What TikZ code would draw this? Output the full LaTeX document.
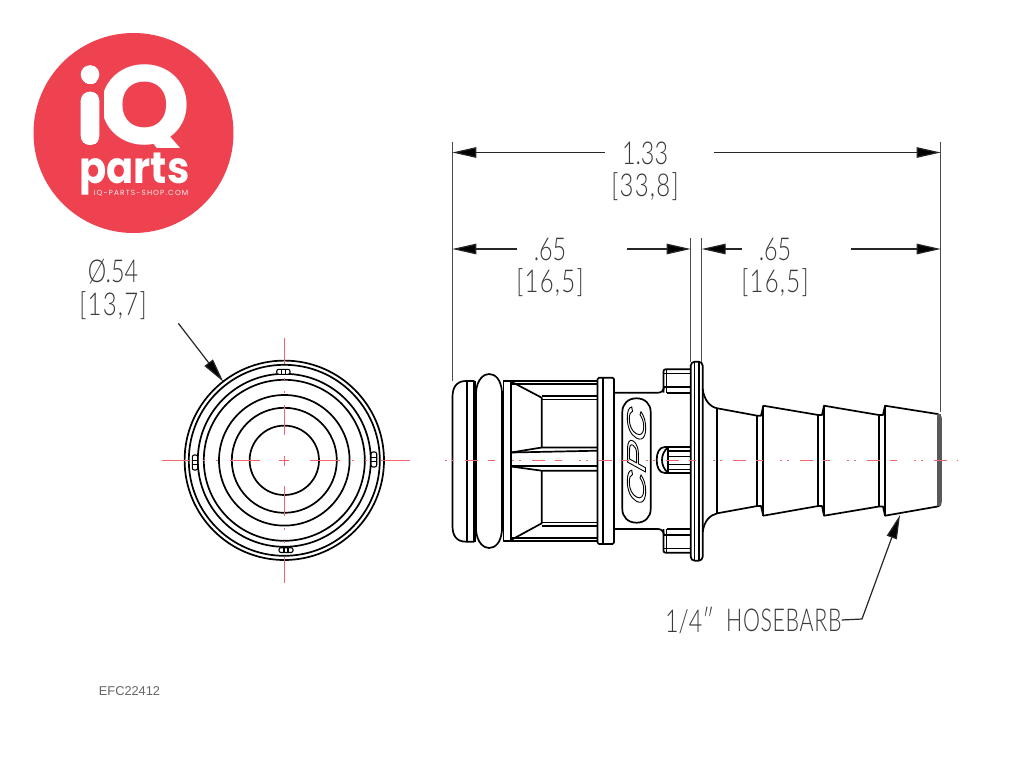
\documentclass[tikz,border=0pt]{standalone}
\usepackage{fontspec}
\usetikzlibrary{arrows.meta}
\setmainfont{Liberation Sans}
\newfontfamily\dimfont[FakeStretch=0.74]{Lato Light}
\newfontfamily\brfont[FakeStretch=0.76,LetterSpace=4]{Lato Light}
\newfontfamily\hosefont[FakeStretch=0.68,LetterSpace=2]{Lato Light}
\newfontfamily\logofont{Poppins Bold}
\newfontfamily\logopfont[FakeStretch=0.91]{Poppins Bold}
\newfontfamily\urlfont[LetterSpace=15]{Poppins}
\newfontfamily\cpcfont[FakeSlant=0.55,FakeStretch=1.75]{Liberation Sans}
\definecolor{logored}{HTML}{EE4250}
\definecolor{axisred}{HTML}{F0666C}
\definecolor{inkdim}{HTML}{3A3A3A}
\tikzset{
  x=1pt,y=-1pt,
  part/.style={line width=1.7pt,black,line join=round},
  fine/.style={line width=1.1pt,black,line join=round},
  dimline/.style={line width=1.2pt,black!85},
  extline/.style={line width=1pt,black!70},
  dimarrow/.style={dimline,-{Triangle[length=24pt,width=10.5pt,fill=black]}},
  dimlabel/.style={font=\dimfont\fontsize{31.5}{32}\selectfont,text=inkdim,inner sep=0pt,anchor=center},
  brlabel/.style={font=\brfont\fontsize{31.5}{32}\selectfont,text=inkdim,inner sep=0pt,anchor=center},
  axisline/.style={line width=1.5pt,axisred,dash pattern=on 13pt off 10pt on 7pt off 17pt on 2pt off 5pt on 2pt off 11pt,dash phase=42pt},
  crossline/.style={line width=1.4pt,axisred,dash pattern=on 30pt off 12pt on 2pt off 11pt on 2pt off 14pt},
}
\begin{document}
\begin{tikzpicture}
\useasboundingbox (0,0) rectangle (1024,768);
\fill[white] (0,0) rectangle (1024,768);
% logo
\fill[logored] (133.5,133) circle (100);
\fill[white] (90,74.5) circle (9.3);
\fill[white,rounded corners=9pt] (80.7,91.7) rectangle (99.3,145);
\begin{scope}
  \clip (90,74.5) circle (9.3)
        [rounded corners=9pt] (80.7,91.7) rectangle (99.3,145)
        [sharp corners] (104,55) -- (192,55) -- (192,134) -- (180,147) -- (104,147) -- cycle;
  \node[font=\logofont\fontsize{112}{112}\selectfont,text=white,inner sep=0pt,anchor=base west] (logoiQ) at (72,144.5) {\smash{i\kern -7pt\scalebox{1.05}[1]{Q}}};
\end{scope}
\node[font=\logopfont\fontsize{44}{44}\selectfont,text=white,inner sep=0pt,anchor=base] (logoparts) at (134.5,183) {\smash{parts}};
\node[font=\urlfont\fontsize{7.4}{8}\selectfont,text=white!90!logored,inner sep=0pt] (logourl) at (141,193) {IQ-PARTS-SHOP.COM};
% named points of the dimensioning
\coordinate (extLtop) at (452.3,141.5);
\coordinate (extLbot) at (452.3,381);
\coordinate (extRtop) at (940.7,141.5);
\coordinate (extRbot) at (940.7,412);
\coordinate (extMAtop) at (690.7,238);
\coordinate (extMAbot) at (690.7,362);
\coordinate (extMBtop) at (701.7,238);
\coordinate (extMBbot) at (701.7,362);
\coordinate (a1L) at (452.3,152.5);
\coordinate (a1R) at (940.7,152.5);
\coordinate (a1g1) at (605,152.5);
\coordinate (a1g2) at (714,152.5);
\coordinate (a2L) at (452.3,249);
\coordinate (a2g1) at (516.7,249);
\coordinate (a2g2) at (626.7,249);
\coordinate (a2M) at (690.7,249);
\coordinate (a3M) at (701.7,249);
\coordinate (a3g1) at (741.7,249);
\coordinate (a3g2) at (851,249);
\coordinate (a3R) at (940.7,249);
\draw[extline] (extLtop) -- (extLbot);
\draw[extline] (extRtop) -- (extRbot);
\draw[extline] (extMAtop) -- (extMAbot);
\draw[extline] (extMBtop) -- (extMBbot);
\draw[dimarrow] (a1g1) -- (a1L);
\draw[dimarrow] (a1g2) -- (a1R);
\draw[dimarrow] (a2g1) -- (a2L);
\draw[dimarrow] (a2g2) -- (a2M);
\draw[dimarrow] (a3g1) -- (a3M);
\draw[dimarrow] (a3g2) -- (a3R);
\node[dimlabel] (t133) at (645,153) {1.33};
\node[brlabel] (t338) at (645,187) {[33,8]};
\node[dimlabel] (t65a) at (550,249) {.65};
\node[brlabel] (t165a) at (550,283) {[16,5]};
\node[dimlabel] (t65b) at (775,249) {.65};
\node[brlabel] (t165b) at (775,283) {[16,5]};
\node[dimlabel] (tdia) at (113,271.5) {Ø.54};
\node[brlabel] (t137) at (113,306) {[13,7]};
\node[dimlabel,anchor=west] (those1) at (665,620) {1/4″};
\node[dimlabel,font=\hosefont\fontsize{31.5}{32}\selectfont,anchor=west] (those2) at (726,620) {HOSEBARB};
\coordinate (barbtip) at (900,515);
\coordinate (barbelbow) at (862,619);
\draw[dimarrow] (those2.east) -- (barbelbow) -- (barbtip);
\coordinate (diatail) at (178.3,323.3);
\coordinate (diatip) at (223.3,381.7);
\draw[dimarrow] (diatail) -- (diatip);
% end view
\foreach \r in {99.7,95.5,86.5,80.5,65.3,52.5,34.7}
  \draw[part] (284.3,460.3) circle (\r);
\foreach \a/\b/\c/\d in {276.7/369.3/290/374.3, 279/547.7/293/552.5}{
  \draw[fine,fill=white,rounded corners=2pt] (\a,\b) rectangle (\c,\d);
  \draw[fine] ({(\a+\c)/2-2},\b) -- ({(\a+\c)/2-2},\d);
  \draw[fine] ({(\a+\c)/2+2},\b) -- ({(\a+\c)/2+2},\d);
}
\foreach \a/\b/\c/\d in {192.3/455/197.7/470, 371/452/376.7/467}{
  \draw[fine,fill=white,rounded corners=2pt] (\a,\b) rectangle (\c,\d);
  \draw[fine] (\a,{(\b+\d)/2-2}) -- (\c,{(\b+\d)/2-2});
  \draw[fine] (\a,{(\b+\d)/2+2}) -- (\c,{(\b+\d)/2+2});
}
% side view: nose
\draw[part] (474,381) -- (466,381) .. controls (456,381) and (452.5,388) .. (452.5,397) -- (452.5,526) .. controls (452.5,535) and (456,541.7) .. (466,541.7) -- (474,541.7) -- cycle;
\draw[part] (467,381) -- (467,541.7);
\draw[part,line width=2.2pt] (474.5,381) -- (474.5,541.7);
% bead
\draw[part] (476,392) .. controls (477,379) and (484,374) .. (489,374) .. controls (495,374) and (501,379) .. (502,392) -- (502,530) .. controls (501,543) and (495,548) .. (489,548) .. controls (484,548) and (477,543) .. (476,530) -- cycle;
% cage
\draw[part] (503.5,381) rectangle (511,540.7);
\draw[part] (511,381) -- (597.5,381);
\draw[part] (511,540.7) -- (597.5,540.7);
\draw[part] (511,384) -- (597.5,384);
\draw[part] (511,538) -- (597.5,538);
\draw[part] (511,381.5) -- (541.7,397.7) -- (541.7,448);
\draw[part] (541.7,395.7) -- (597.5,395.7);
\draw[part] (541.7,399.5) -- (597.5,399.5);
\draw[part] (511,452.5) -- (541.7,447.5) -- (597.5,447.5);
\draw[part] (511,452.5) -- (597.5,450.7);
\draw[part] (511,465.7) -- (597.5,465.7);
\draw[part] (511,466.5) -- (541.7,470.7) -- (597.5,470.7);
\draw[part] (541.7,470.7) -- (541.7,523.3) -- (511,540);
\draw[part] (541.7,522.5) -- (597.5,522.5);
\draw[part] (541.7,526) -- (597.5,526);
% collar
\draw[part,rounded corners=1.5pt] (597.5,377.7) rectangle (614,544);
\draw[part] (603,377.7) -- (603,544);
% neck
\draw[part] (614,392.7) -- (658,392.7) .. controls (662,392.7) and (664,390) .. (664,386);
\draw[part] (614,529) -- (658,529) .. controls (662,529) and (664,532) .. (664,536);
% tabs
\draw[part,rounded corners=2pt] (690.7,369.3) -- (663.5,369.3) -- (663.5,392.7);
\draw[part] (666.5,369.3) -- (666.5,392.7);
\draw[part] (664,373.5) -- (690.7,373.5);
\draw[part] (664,386.7) -- (690.7,386.7);
\draw[part] (666.5,392.7) -- (690.7,392.7);
\draw[part,rounded corners=2pt] (690.7,552.7) -- (663.5,552.7) -- (663.5,529);
\draw[part] (666.5,529) -- (666.5,552.7);
\draw[part] (664,548.5) -- (690.7,548.5);
\draw[part] (664,535) -- (690.7,535);
\draw[part] (666.5,529) -- (690.7,529);
% pin
\draw[part] (690.7,447) -- (665,447) .. controls (659,447) and (656.7,453) .. (656.7,460) .. controls (656.7,467) and (659,473) .. (665,473) -- (690.7,473);
\draw[part] (668,447) .. controls (664,451) and (662,455) .. (662,460) .. controls (662,465) and (664,469) .. (668,473);
\draw[part] (668,451) -- (690.7,451);
\draw[part] (668,456.5) -- (690.7,456.5);
\draw[part] (668,464.5) -- (690.7,464.5);
\draw[part] (668,469.5) -- (690.7,469.5);
\draw[part] (668,447) -- (668,473);
% flange
\draw[part,rounded corners=4pt] (690.7,361.7) rectangle (702.7,560.7);
\draw[part] (694.5,362) -- (694.5,560.5);
\draw[part] (699,362) -- (699,560.5);
% barb
\draw[part] (702.7,389) .. controls (704,400) and (710,407) .. (717.3,408.3)
  -- (757.3,415.7) -- (761,415.7) -- (763.3,405.7) -- (818.3,415) -- (822,415) -- (824,405.7) -- (879,415) -- (883,415) -- (885,405.7) -- (937.5,414) .. controls (940,414.5) and (940.7,416) .. (940.7,418)
  -- (940.7,502) .. controls (940.7,505) and (940,506) .. (937.5,506.5)
  -- (885,515.7) -- (883,506.5) -- (879,506.5) -- (824,515.7) -- (822,506) -- (818.3,506) -- (763.3,515.7) -- (761,506) -- (757.3,506) -- (717.3,513.3) .. controls (710,515) and (704,521) .. (702.7,532);
\foreach \x/\t/\b in {717.3/408.3/513.3,757.3/415.7/506,763.3/405.7/515.7,818.3/415/506,824/405.7/515.7,879/415/506.5,885/405.7/515.7}
  \draw[part] (\x,\t) -- (\x,\b);
\fill[black!65] (937,414.3) rectangle (940.7,506);
% CPC badge
\draw[part] (636.5,398.3) .. controls (645,398.3) and (650.7,404) .. (650.7,412) -- (650.7,509) .. controls (650.7,517) and (645,522.7) .. (636.5,522.7) .. controls (628,522.7) and (622.3,517) .. (622.3,509) -- (622.3,412) .. controls (622.3,404) and (628,398.3) .. (636.5,398.3) -- cycle;
\node[rotate=90,font=\cpcfont\fontsize{26}{26}\selectfont,inner sep=0pt] (cpc) at (636.5,460.5) {\special{pdf:code q 1 Tr 0.9 w}CPC\special{pdf:code Q}};
% centre lines
\coordinate (axL) at (440,460.7);
\coordinate (axR) at (958,460.7);
\draw[axisline] (axL) -- (axR);
\coordinate (crLi) at (260,460.5);
\coordinate (crL) at (162,460.5);
\coordinate (crRi) at (310,460.5);
\coordinate (crR) at (410,460.5);
\coordinate (crTi) at (284.3,435);
\coordinate (crT) at (284.3,338);
\coordinate (crBi) at (284.3,486);
\coordinate (crB) at (284.3,583);
\draw[crossline] (crLi) -- (crL);
\draw[crossline] (crRi) -- (crR);
\draw[crossline] (crTi) -- (crT);
\draw[crossline] (crBi) -- (crB);
\coordinate (c1) at (279.3,460.5);
\coordinate (c2) at (289.3,460.5);
\coordinate (c3) at (284.3,455.5);
\coordinate (c4) at (284.3,465.5);
\draw[axisred,line width=1.4pt] (c1) -- (c2);
\draw[axisred,line width=1.4pt] (c3) -- (c4);
% article number
\node[font=\fontsize{12.8}{14}\selectfont,text=black!60,inner sep=0pt] (code) at (129.5,691) {EFC22412};
\end{tikzpicture}
\end{document}
